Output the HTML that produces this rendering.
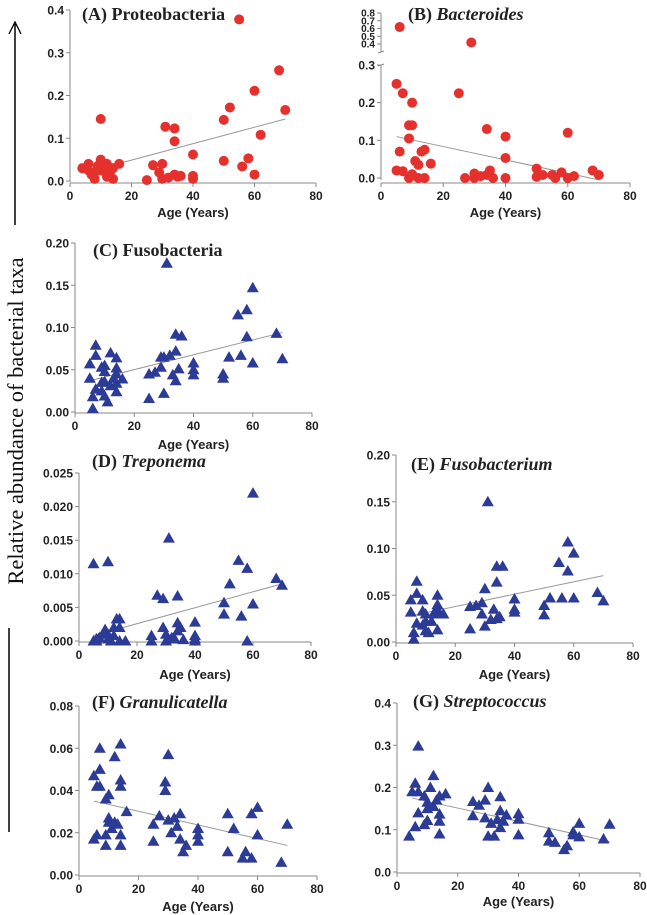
<!DOCTYPE html>
<html><head><meta charset="utf-8">
<style>
html,body{margin:0;padding:0;background:#fff;}
svg{display:block;}
.tick{font-family:"Liberation Sans",Arial,sans-serif;font-weight:bold;font-size:12px;fill:#222;}
.tick.sm{font-size:10px;}
.ttl{font-family:"Liberation Serif",serif;font-weight:bold;font-size:18px;fill:#222;}
.xl{font-family:"Liberation Sans",Arial,sans-serif;font-weight:bold;font-size:13px;fill:#222;}
</style></head>
<body>
<svg id="fig" width="647" height="915" viewBox="0 0 647 915" xmlns="http://www.w3.org/2000/svg">
  <g>
    <line x1="15" y1="24" x2="15" y2="225" stroke="#000" stroke-width="1.5"/>
    <path d="M9,34 L15,22 L21,34" fill="none" stroke="#000" stroke-width="1.3"/>
    <text x="0" y="0" transform="translate(23,421) rotate(-90)" text-anchor="middle" style="font-family:'Liberation Serif',serif;font-size:22.5px;fill:#111">Relative abundance of bacterial taxa</text>
    <line x1="9" y1="628" x2="9" y2="832" stroke="#000" stroke-width="1.5"/>
  </g>
</svg>
<script>
// Panel A: Proteobacteria
const ageA=[4,6,6,7,8,8,9,10,10,10,11,12,12,13,14,14,16,25,27,29,30,30,31,32,34,34,34,35,36,40,40,40,50,50,52,55,56,58,60,60,62,68,70];
const valA=[0.03,0.04,0.025,0.015,0.005,0.02,0.035,0.05,0.145,0.025,0.03,0.04,0.01,0.02,0.005,0.03,0.04,0.002,0.037,0.02,0.04,0.005,0.127,0.008,0.123,0.093,0.015,0.01,0.012,0.062,0.012,0.005,0.143,0.047,0.172,0.378,0.034,0.053,0.211,0.015,0.108,0.259,0.166];
const trendA=[[5,0.02],[70,0.145]];
const ticksA=[0,0.1,0.2,0.3,0.4];
// Panel B: Bacteroides
const ageB=[5,5,6,6,7,7,9,9,9,10,10,10,11,12,12,13,14,14,16,25,27,29,30,30,32,34,34,35,36,40,40,40,50,50,52,55,56,58,60,60,62,68,70];
const valB=[0.25,0.02,0.62,0.07,0.225,0.018,0.14,0.105,0,0.14,0.2,0.01,0.045,0.035,0,0.07,0.075,0,0.038,0.225,0,0.42,0.012,0,0.005,0.13,0.008,0.02,0,0.11,0.053,0,0.025,0.003,0.008,0.008,0,0.015,0.12,0,0.005,0.02,0.008];
const trendB=[[5,0.11],[70,-0.005]];
const ticksBLow=[0,0.1,0.2,0.3];
const ticksBHigh=[0.4,0.5,0.6,0.7,0.8];
// Panel C: Fusobacteria
const ageC=[5,5,6,6,7,7,7,9,9,9,10,10,10,10,11,12,12,13,14,14,14,14,14,16,25,25,27,29,29,30,30,31,32,33,34,34,34,35,36,40,40,40,50,50,52,55,56,58,58,60,60,68,70];
const valC=[0.057,0.04,0.018,0.004,0.079,0.067,0.027,0.053,0.035,0.025,0.055,0.048,0.036,0.019,0.012,0.07,0.031,0.04,0.064,0.052,0.045,0.034,0.024,0.039,0.045,0.016,0.047,0.065,0.053,0.065,0.022,0.176,0.067,0.044,0.092,0.072,0.037,0.051,0.09,0.058,0.05,0.044,0.045,0.04,0.065,0.115,0.067,0.121,0.089,0.147,0.058,0.093,0.063];
const trendC=[[5,0.037],[70,0.094]];
const ticksC=[0,0.05,0.1,0.15,0.2];
// Panel D: Treponema
const ageD=[5,5,6,6,7,9,9,10,10,10,11,12,12,13,14,14,14,16,25,25,27,29,29,30,30,31,32,33,34,34,34,35,36,40,40,40,40,50,50,52,55,56,58,58,60,60,68,70];
const valD=[0.0115,0,0,0.0003,0.0005,0.0017,0.0012,0.001,0.0118,0.0003,0,0.0008,0.002,0.0033,0.0033,0.002,0,0,0.0008,0,0.0068,0.0063,0.002,0.001,0,0.0153,0.0005,0.0003,0.0067,0.0027,0.0015,0.002,0.0002,0.0028,0.0008,0.0003,0,0.0057,0.004,0.0085,0.012,0.0037,0.0108,0,0.022,0.0055,0.0093,0.0083];
const trendD=[[5,0.0008],[70,0.0085]];
const ticksD=[0,0.005,0.01,0.015,0.02,0.025];
// Panel E: Fusobacterium
const ageE=[5,5,6,6,7,7,7,9,9,9,10,10,10,11,12,13,14,14,14,14,14,16,25,25,27,29,29,30,30,31,32,33,34,34,34,35,36,40,40,40,50,50,52,55,56,58,58,60,60,68,70];
const valE=[0.045,0.032,0.01,0.003,0.065,0.052,0.02,0.045,0.033,0.018,0.03,0.022,0.012,0.01,0.022,0.032,0.05,0.04,0.035,0.03,0.013,0.03,0.038,0.014,0.039,0.042,0.03,0.057,0.017,0.15,0.024,0.035,0.081,0.064,0.025,0.027,0.081,0.046,0.035,0.032,0.039,0.029,0.047,0.085,0.047,0.107,0.076,0.095,0.047,0.053,0.044];
const trendE=[[5,0.028],[70,0.071]];
const ticksE=[0,0.05,0.1,0.15,0.2];
// Panel F: Granulicatella
const ageF=[5,5,6,6,7,7,7,9,9,9,10,10,10,11,12,12,13,14,14,14,14,14,16,25,25,27,29,29,30,30,31,32,33,34,34,35,36,40,40,40,50,50,52,55,56,58,58,60,60,68,70];
const valF=[0.047,0.017,0.042,0.019,0.06,0.05,0.042,0.036,0.019,0.014,0.038,0.027,0.025,0.022,0.056,0.025,0.024,0.062,0.045,0.042,0.019,0.014,0.03,0.024,0.016,0.028,0.044,0.04,0.057,0.026,0.02,0.027,0.023,0.029,0.017,0.011,0.014,0.022,0.019,0.016,0.029,0.011,0.022,0.008,0.011,0.029,0.008,0.032,0.019,0.006,0.024];
const trendF=[[5,0.035],[70,0.014]];
const ticksF=[0,0.02,0.04,0.06,0.08];
// Panel G: Streptococcus
const ageG=[4,5,6,6,7,7,7,9,9,10,10,10,11,12,12,13,14,14,14,14,16,25,25,27,29,29,30,30,31,32,33,34,34,34,35,36,40,40,40,50,50,52,55,56,58,58,60,60,68,70];
const valG=[0.085,0.19,0.21,0.107,0.298,0.19,0.14,0.18,0.112,0.165,0.15,0.122,0.2,0.228,0.155,0.17,0.18,0.137,0.12,0.09,0.185,0.167,0.133,0.158,0.17,0.128,0.2,0.085,0.115,0.085,0.124,0.178,0.145,0.105,0.12,0.135,0.138,0.125,0.088,0.093,0.073,0.07,0.053,0.062,0.095,0.088,0.115,0.083,0.078,0.113];
const trendG=[[5,0.175],[70,0.072]];
const ticksG=[0,0.1,0.2,0.3,0.4];
const xTicks=[0,20,40,60,80];

const NS='http://www.w3.org/2000/svg';
const svg=document.getElementById('fig');
function mk(tag,attrs,parent){const e=document.createElementNS(NS,tag);for(const k in attrs)e.setAttribute(k,attrs[k]);(parent||svg).appendChild(e);return e;}

function panel(o){
  const g=mk('g',{});
  
  
  const sx=v=>o.x0+(o.x1-o.x0)*v/80;
  const sy=o.sy;
  const ax='#888';
  for(const seg of o.ySegs){
    const l=mk('line',{x1:o.x0,x2:o.x0,y1:seg[0],y2:seg[1],stroke:ax,'stroke-width':1},g);
    
    
  }
  for(const t of o.yTicks){
    const y=sy(t);
    const small=o.smallAbove!==undefined && t>=o.smallAbove;
    mk('line',{x1:o.x0-4,x2:o.x0,y1:y,y2:y,stroke:ax,'stroke-width':1},g);
    const tx=mk('text',{x:o.x0-6,y:y+(small?3.5:4.5),'text-anchor':'end',class:small?'tick sm':'tick'},g);
    tx.textContent=o.fmt(t);
    
    
  }
  const xa=mk('line',{x1:o.x0,x2:o.x1,y1:o.xAxisY,y2:o.xAxisY,stroke:ax,'stroke-width':1},g);
  
  
  for(const t of xTicks){
    const x=sx(t);
    mk('line',{x1:x,x2:x,y1:o.xAxisY,y2:o.xAxisY+4,stroke:ax,'stroke-width':1},g);
    const tx=mk('text',{x:x,y:o.xAxisY+17,'text-anchor':'middle',class:'tick'},g);
    tx.textContent=String(t);
    
    
  }
  const xl=mk('text',{x:(o.x0+o.x1)/2,y:o.xLabelY,'text-anchor':'middle',class:'xl'},g);
  xl.textContent='Age (Years)';
  
  
  const tl=mk('line',{x1:sx(o.trend[0][0]),y1:sy(o.trend[0][1]),x2:sx(o.trend[1][0]),y2:sy(o.trend[1][1]),stroke:'#999','stroke-width':1},g);
  
  
  for(let i=0;i<o.ages.length;i++){
    const x=sx(o.ages[i]),y=sy(o.vals[i]);
    let p;
    if(o.circle){p=mk('circle',{cx:x,cy:y,r:5,fill:'#e5312d'},g);}
    else{p=mk('path',{d:`M${x},${y-6} L${x+6},${y+4.5} L${x-6},${y+4.5} Z`,fill:'#2b3b96'},g);}
    
    
  }
  const tt=mk('text',{x:o.tx,y:o.ty,class:'ttl'},g);
  tt.innerHTML=o.title;
  
  
}
const lin=(y0,y1,vmax)=>v=>y0+(y1-y0)*v/vmax;
const f1=t=>t.toFixed(1), f2=t=>t.toFixed(2), f3=t=>t.toFixed(3);

panel({name:'panel-a-proteobacteria',x0:70,x1:316,sy:lin(181,10,0.4),ySegs:[[10,182]],yTicks:ticksA,fmt:f1,xAxisY:183,xLabelY:217,trend:trendA,ages:ageA,vals:valA,circle:true,tx:82,ty:20,title:'(A) Proteobacteria'});

const syB=v=>v<=0.35? 178-113*v/0.3 : 44-31*(v-0.4)/0.4;
panel({name:'panel-b-bacteroides',x0:381,x1:630,sy:syB,ySegs:[[13,52],[65,180]],yTicks:ticksBLow.concat(ticksBHigh),smallAbove:0.35,fmt:f1,xAxisY:183,xLabelY:217,trend:trendB,ages:ageB,vals:valB,circle:true,tx:408,ty:20,title:'(B) <tspan font-style="italic">Bacteroides</tspan>'});
mk('line',{x1:378,x2:384,y1:53,y2:51,stroke:'#888'});mk('line',{x1:378,x2:384,y1:66,y2:64,stroke:'#888'});

panel({name:'panel-c-fusobacteria',x0:75,x1:312,sy:lin(412,243,0.2),ySegs:[[243,413]],yTicks:ticksC,fmt:f2,xAxisY:413,xLabelY:449,trend:trendC,ages:ageC,vals:valC,tx:93,ty:256,title:'(C) Fusobacteria'});

panel({name:'panel-d-treponema',x0:79,x1:311,sy:lin(641,473,0.025),ySegs:[[473,642]],yTicks:ticksD,fmt:f3,xAxisY:642,xLabelY:679,trend:trendD,ages:ageD,vals:valD,tx:92,ty:467,title:'(D) <tspan font-style="italic">Treponema</tspan>'});

panel({name:'panel-e-fusobacterium',x0:396,x1:633,sy:lin(642,455,0.2),ySegs:[[455,643]],yTicks:ticksE,fmt:f2,xAxisY:643,xLabelY:679,trend:trendE,ages:ageE,vals:valE,tx:411,ty:470,title:'(E) <tspan font-style="italic">Fusobacterium</tspan>'});

panel({name:'panel-f-granulicatella',x0:79,x1:317,sy:lin(875,706,0.08),ySegs:[[706,876]],yTicks:ticksF,fmt:f2,xAxisY:876,xLabelY:911,trend:trendF,ages:ageF,vals:valF,tx:92,ty:708,title:'(F) <tspan font-style="italic">Granulicatella</tspan>'});

panel({name:'panel-g-streptococcus',x0:397,x1:640,sy:lin(872,703,0.4),ySegs:[[703,873]],yTicks:ticksG,fmt:f1,xAxisY:873,xLabelY:906,trend:trendG,ages:ageG,vals:valG,tx:413,ty:707,title:'(G) <tspan font-style="italic">Streptococcus</tspan>'});
</script>
</body></html>
